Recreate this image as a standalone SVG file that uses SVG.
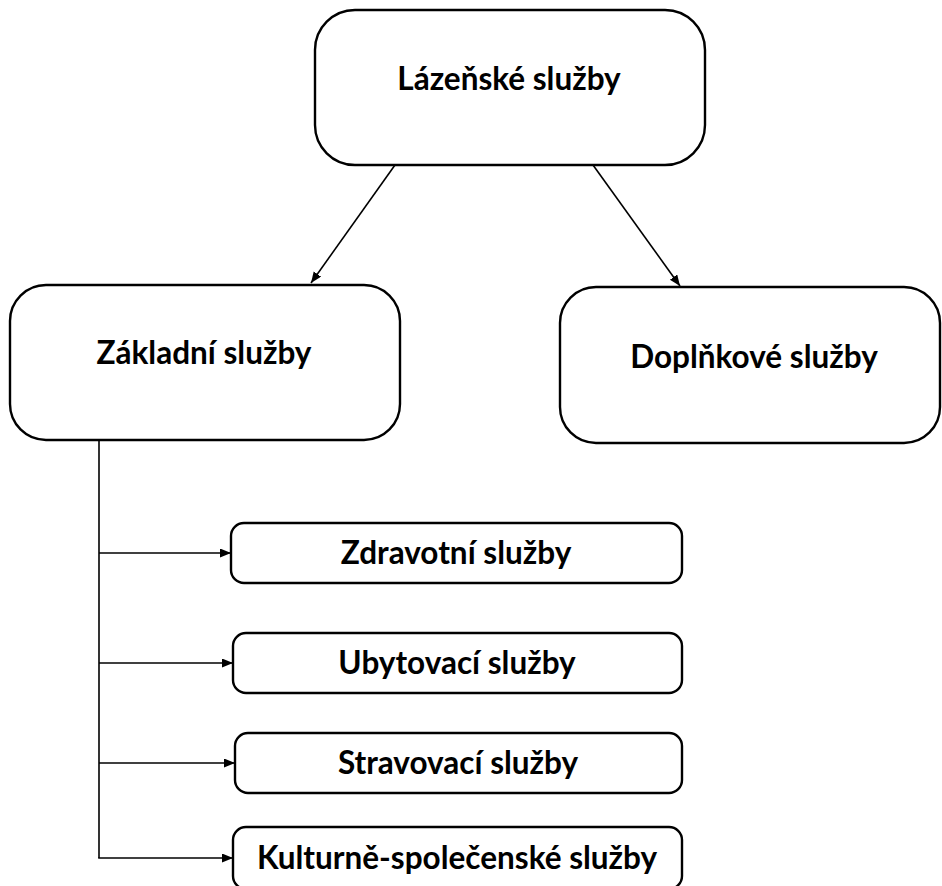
<svg xmlns="http://www.w3.org/2000/svg" width="942" height="886" viewBox="0 0 942 886">
<defs>
<marker id="arr" markerWidth="12" markerHeight="10" refX="11" refY="4.5" orient="auto" markerUnits="userSpaceOnUse">
<path d="M0,0 L11,4.5 L0,9 Z" fill="#000"/>
</marker>
<style>
.box{fill:#fff;stroke:#000;stroke-width:2.4}
.lbl{font-family:Lato,"Open Sans","Liberation Sans",sans-serif;font-weight:bold;font-size:31.5px;fill:#000;text-anchor:middle}
.con{fill:none;stroke:#000;stroke-width:1.6}
</style>
</defs>
<rect width="942" height="886" fill="#fff"/>
<g id="connectors">
<line class="con" x1="395" y1="165" x2="311" y2="283" marker-end="url(#arr)"/>
<line class="con" x1="593" y1="165" x2="680" y2="286" marker-end="url(#arr)"/>
<polyline class="con" points="99,440 99,858"/>
<line class="con" x1="99" y1="553" x2="231" y2="553" marker-end="url(#arr)"/>
<line class="con" x1="99" y1="663" x2="233" y2="663" marker-end="url(#arr)"/>
<line class="con" x1="99" y1="763" x2="235" y2="763" marker-end="url(#arr)"/>
<line class="con" x1="98.2" y1="858" x2="233" y2="858" marker-end="url(#arr)"/>
</g>
<g id="lazenske">
<rect class="box" x="315" y="10" width="390" height="155" rx="40"/>
<text class="lbl" x="509" y="90">Lázeňské služby</text>
</g>
<g id="zakladni">
<rect class="box" x="10" y="285" width="390" height="155" rx="36"/>
<text class="lbl" x="204" y="364">Základní služby</text>
</g>
<g id="doplnkove">
<rect class="box" x="560" y="287" width="380" height="156" rx="36"/>
<text class="lbl" x="754" y="368">Doplňkové služby</text>
</g>
<g id="zdravotni">
<rect class="box" x="231" y="523" width="451" height="60" rx="13"/>
<text class="lbl" x="456" y="564">Zdravotní služby</text>
</g>
<g id="ubytovaci">
<rect class="box" x="233" y="633" width="449" height="60" rx="13"/>
<text class="lbl" x="457" y="674">Ubytovací služby</text>
</g>
<g id="stravovaci">
<rect class="box" x="235" y="733" width="447" height="60" rx="13"/>
<text class="lbl" x="458" y="774">Stravovací služby</text>
</g>
<g id="kulturne">
<rect class="box" x="233" y="827" width="449" height="62" rx="13"/>
<text class="lbl" x="457" y="869">Kulturně-společenské služby</text>
</g>
</svg>
